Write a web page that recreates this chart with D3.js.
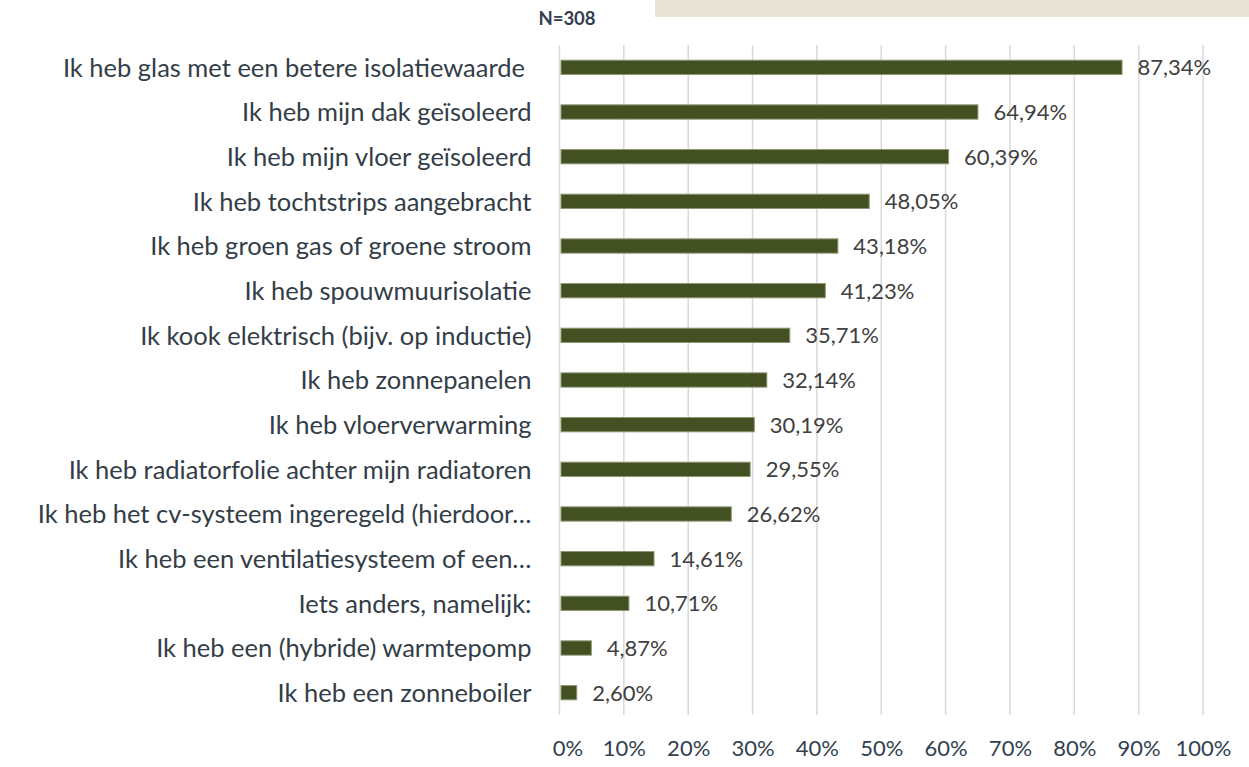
<!DOCTYPE html>
<html>
<head>
<meta charset="utf-8">
<script src="https://cdn.jsdelivr.net/npm/d3@7"></script>
<style>
  body { margin: 0; background: #fff; }
  svg { display: block; font-family: Lato, "Open Sans", sans-serif; }
</style>
</head>
<body>
<svg width="1249" height="767"></svg>
<script>
let categories = [
    "Ik heb glas met een betere isolatiewaarde ",
    "Ik heb mijn dak geïsoleerd",
    "Ik heb mijn vloer geïsoleerd",
    "Ik heb tochtstrips aangebracht",
    "Ik heb groen gas of groene stroom",
    "Ik heb spouwmuurisolatie",
    "Ik kook elektrisch (bijv. op inductie)",
    "Ik heb zonnepanelen",
    "Ik heb vloerverwarming",
    "Ik heb radiatorfolie achter mijn radiatoren",
    "Ik heb het cv-systeem ingeregeld (hierdoor…",
    "Ik heb een ventilatiesysteem of een…",
    "Iets anders, namelijk:",
    "Ik heb een (hybride) warmtepomp",
    "Ik heb een zonneboiler"
];
let values = [87.34, 64.94, 60.39, 48.05, 43.18, 41.23, 35.71, 32.14, 30.19, 29.55, 26.62, 14.61, 10.71, 4.87, 2.60];
let tickValues = [0, 10, 20, 30, 40, 50, 60, 70, 80, 90, 100];

let margin = {top: 45, right: 46, bottom: 52, left: 559.5},
    width = 1249 - margin.left - margin.right,
    height = 767 - margin.top - margin.bottom;

var svg = d3.select('svg');

// beige strip at the top
svg.append('rect')
    .attr('x', 655).attr('y', 0)
    .attr('width', 600).attr('height', 17)
    .attr('fill', '#e9e5d6');

svg.append('text')
    .attr('x', 567).attr('y', 25)
    .attr('text-anchor', 'middle')
    .attr('font-size', 18.5).attr('font-weight', 'bold')
    .attr('fill', '#333f50')
    .text('N=308');

let g = svg.append('g')
    .attr('transform', `translate(${margin.left}, ${margin.top})`);

let x = d3.scaleLinear().domain([0, 100]).range([0, width]);
let y = d3.scaleBand().domain(categories).range([0, height]).paddingInner(0.68).paddingOuter(0.34);

// gridlines
g.selectAll('.grid')
    .data(tickValues)
    .enter()
    .append('line')
    .attr('x1', d => x(d)).attr('x2', d => x(d))
    .attr('y1', 0).attr('y2', height)
    .attr('stroke', '#d9d9d9')
    .attr('stroke-width', 1.5);

// bars
g.selectAll('.bar')
    .data(values)
    .enter()
    .append('rect')
    .attr('x', x(0) + 1.5)
    .attr('y', (d, i) => y(categories[i]))
    .attr('width', d => x(d) - x(0) - 1)
    .attr('height', y.bandwidth())
    .attr('fill', '#435021')
    .attr('stroke', '#8e9674')
    .attr('stroke-width', 1);

// value labels
g.selectAll('.val')
    .data(values)
    .enter()
    .append('text')
    .attr('x', d => x(d) + 16)
    .attr('y', (d, i) => y(categories[i]) + y.bandwidth() / 2)
    .attr('dy', '0.36em')
    .attr('font-size', 22)
    .attr('fill', '#404040')
    .text(d => d.toFixed(2).replace('.', ',') + '%');

// category labels
g.selectAll('.cat')
    .data(categories)
    .enter()
    .append('text')
    .attr('x', -28)
    .attr('y', d => y(d) + y.bandwidth() / 2)
    .attr('dy', '0.36em')
    .attr('text-anchor', 'end')
    .attr('font-size', 25.5)
    .attr('fill', '#333d47')
    .style('white-space', 'pre')
    .text(d => d);

// x axis
let xAxis = g.append('g')
    .attr('transform', `translate(0, ${height})`)
    .call(d3.axisBottom(x).tickValues(tickValues).tickFormat(d => d + '%').tickSize(0).tickPadding(25));
xAxis.select('.domain').remove();
xAxis.selectAll('text')
    .attr('font-size', 22)
    .attr('font-family', 'Lato, "Open Sans", sans-serif')
    .attr('fill', '#333f50');
xAxis.selectAll('.tick').filter(d => d === 0).select('text').attr('dx', 8);
</script>
</body>
</html>
